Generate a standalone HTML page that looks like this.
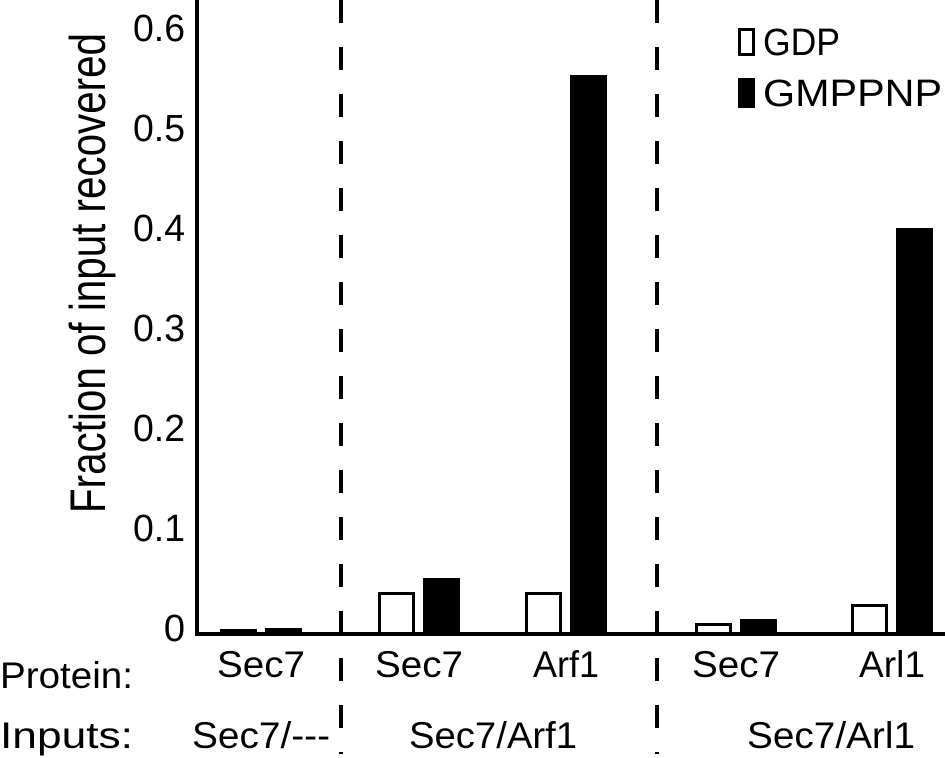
<!DOCTYPE html>
<html><head><meta charset="utf-8"><style>
html,body{margin:0;padding:0;background:#fff}
svg{display:block;font-family:"Liberation Sans",Arial,sans-serif}
</style></head><body>
<svg id="chart" width="945" height="758" viewBox="0 0 945 758" xmlns="http://www.w3.org/2000/svg">
<g id="marks"></g>
</svg>
<script>
const categories = ["Sec7", "Sec7", "Arf1", "Sec7", "Arl1"];
const groupCenters = [261, 419, 566, 736, 892];
const gdpValues = [0.005, 0.042, 0.042, 0.011, 0.030];
const gmppnpValues = [0.006, 0.056, 0.559, 0.015, 0.406];
const tickValues = [0, 0.1, 0.2, 0.3, 0.4, 0.5, 0.6];
const tickLabels = ["0", "0.1", "0.2", "0.3", "0.4", "0.5", "0.6"];
const inputLabels = ["Sec7/---", "Sec7/Arf1", "Sec7/Arl1"];
const inputCenters = [261, 493, 831];

const NS = "http://www.w3.org/2000/svg";
const svg = document.getElementById("marks");
const y0 = 634, scale = 1000;
function y(v){ return y0 - v * scale; }
function el(tag, attrs, text){
  const e = document.createElementNS(NS, tag);
  for (const k in attrs) e.setAttribute(k, attrs[k]);
  if (text !== undefined) e.textContent = text;
  svg.appendChild(e);
  return e;
}
function lenFor(s, per){ return s.length * per; }
const barW = 37;
categories.forEach((c, i) => {
  const cx = groupCenters[i];
  const g = el("rect", {x: cx - 41 + 1.5, y: y(gdpValues[i]) + 1.5, width: barW - 3, height: Math.max(0, gdpValues[i] * scale - 1.5), fill: "#fff", stroke: "#000", "stroke-width": 3});
  
  
  const b = el("rect", {x: cx + 4, y: y(gmppnpValues[i]), width: barW, height: gmppnpValues[i] * scale, fill: "#000"});
  
  
  const t = el("text", {x: cx, y: 677, "font-size": 37, "text-anchor": "middle", textLength: lenFor(c, c === "Sec7" ? 22 : 16.5), lengthAdjust: "spacingAndGlyphs"}, c);
  
  
});
tickValues.forEach((v, i) => {
  const s = tickLabels[i];
  const attrs = {x: 185, y: y(v) + 7, "font-size": 38, "text-anchor": "end"};
  if (s.length > 1) { attrs.textLength = 52; attrs.lengthAdjust = "spacingAndGlyphs"; }
  const t = el("text", attrs, s);
  
  
});
inputLabels.forEach((s, i) => {
  const t = el("text", {x: inputCenters[i], y: 748, "font-size": 37, "text-anchor": "middle", textLength: i === 0 ? 138 : 168, lengthAdjust: "spacingAndGlyphs"}, s);
  
  
});
// axes
let a = el("line", {x1: 197, y1: 0, x2: 197, y2: 636, stroke: "#000", "stroke-width": 4});


a = el("line", {x1: 195, y1: 634, x2: 945, y2: 634, stroke: "#000", "stroke-width": 4});


[341, 657].forEach(x => {
  const d = el("line", {x1: x, y1: 0, x2: x, y2: 754, stroke: "#000", "stroke-width": 4, "stroke-dasharray": "23 24"});
  
  
});
let t = el("text", {transform: "translate(105,273) rotate(-90)", "font-size": 50, "text-anchor": "middle", textLength: 480, lengthAdjust: "spacingAndGlyphs"}, "Fraction of input recovered");


t = el("text", {x: 0, y: 688, "font-size": 37, textLength: 133, lengthAdjust: "spacingAndGlyphs"}, "Protein:");


t = el("text", {x: 0, y: 748, "font-size": 37, textLength: 133, lengthAdjust: "spacingAndGlyphs"}, "Inputs:");


// legend
let r = el("rect", {x: 739.5, y: 29.5, width: 14, height: 25, fill: "#fff", stroke: "#000", "stroke-width": 3});


t = el("text", {x: 763, y: 55, "font-size": 38, textLength: 77, lengthAdjust: "spacingAndGlyphs"}, "GDP");


r = el("rect", {x: 738, y: 78, width: 17, height: 30, fill: "#000"});


t = el("text", {x: 763, y: 106, "font-size": 38, textLength: 179, lengthAdjust: "spacingAndGlyphs"}, "GMPPNP");


</script>
</body></html>
